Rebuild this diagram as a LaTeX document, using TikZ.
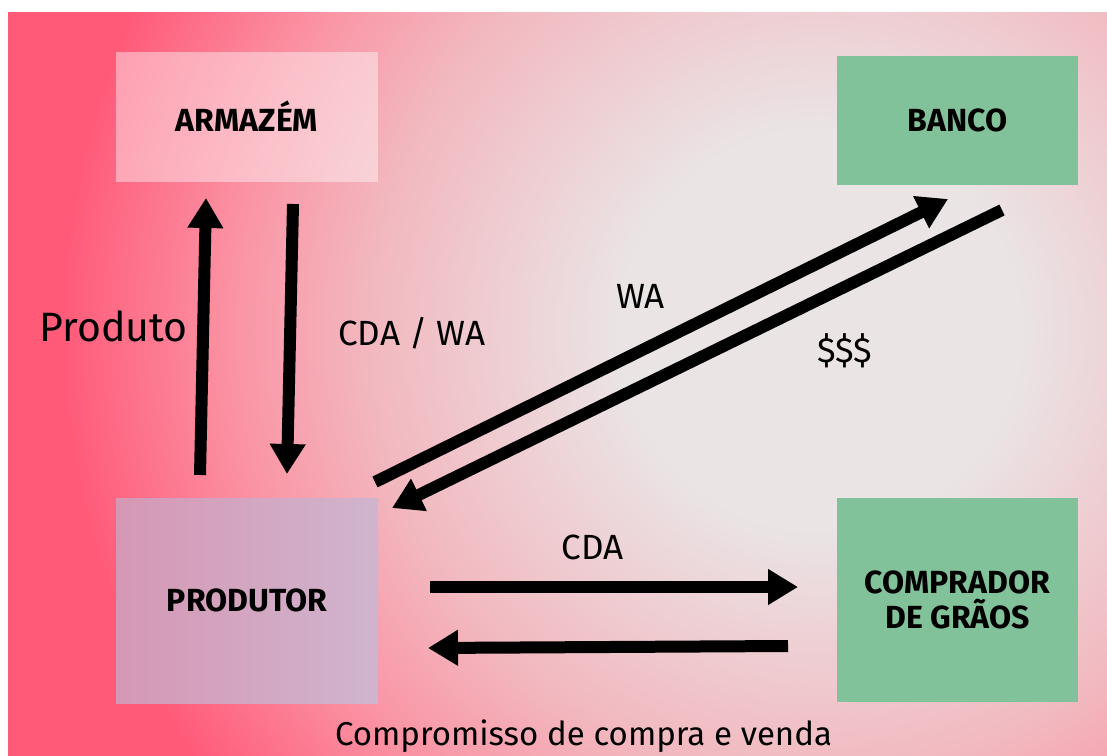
\documentclass[tikz,border=0pt]{standalone}
\usepackage{fontspec}
\setmainfont{Fira Sans}
\usetikzlibrary{arrows.meta}
\definecolor{bgC}{RGB}{234,228,229}
\definecolor{bgM}{RGB}{242,184,191}
\definecolor{bgP}{RGB}{250,150,166}
\definecolor{bgE}{RGB}{255,90,120}
\definecolor{greenbox}{RGB}{130,194,154}
\definecolor{prodL}{RGB}{213,152,180}
\definecolor{prodR}{RGB}{208,180,206}
\pgfdeclareradialshading{bgshade}{\pgfpoint{0bp}{0bp}}{color(0bp)=(bgC); color(5bp)=(bgC); color(11.25bp)=(bgM); color(14.5bp)=(bgP); color(19bp)=(bgE); color(25bp)=(bgE); color(50bp)=(bgE)}
\tikzset{
  box/.style={draw=none, minimum width=262pt, minimum height=130pt, inner sep=0pt, font=\fontsize{32}{35}\selectfont\bfseries, align=center},
  boldarrow/.style={line width=12pt, -{Triangle[length=30pt,width=34pt]}},
  lbl/.style={font=\fontsize{35}{40}\selectfont, inner sep=0pt, anchor=base}
}
\begin{document}
\begin{tikzpicture}[x=1pt,y=-1pt]
\useasboundingbox (0,0) rectangle (1107,755);
\fill[white] (0,0) rectangle (1107,755);
\begin{scope}
\clip (8,12) rectangle (1107,755);
\fill[bgE] (8,12) rectangle (1107,755);
\shade[shading=bgshade] (820,330) circle[radius=1000];
\end{scope}
% boxes
\fill[white, fill opacity=0.42] (116,52) rectangle (378,182);
\node[box, minimum height=130pt] (arm) at (247,116) {ARMAZÉM};
\node[box, fill=greenbox, minimum width=241pt, minimum height=129pt] (banco) at (957.5,120.5) {BANCO};
\shade[left color=prodL, right color=prodR] (116,498) rectangle (378,703);
\node[box, minimum height=205pt] (prod) at (247,600.5) {PRODUTOR};
\node[box, fill=greenbox, minimum width=241pt, minimum height=204pt] (comp) at (957.5,600) {COMPRADOR\\DE GRÃOS};
% arrow endpoints
\coordinate (pa1) at (200,475);
\coordinate (pa2) at (206,198);
\coordinate (cw1) at (293,204);
\coordinate (cw2) at (287,474);
\coordinate (wa1) at (375,482);
\coordinate (wa2) at (948,199);
\coordinate (dl1) at (1002,210);
\coordinate (dl2) at (392,508);
\coordinate (ca1) at (430,587);
\coordinate (ca2) at (798,587);
\coordinate (cb1) at (788,646);
\coordinate (cb2) at (428,648);
\draw[boldarrow] (pa1) -- (pa2);
\draw[boldarrow] (cw1) -- (cw2);
\draw[boldarrow] (wa1) -- (wa2);
\draw[boldarrow] (dl1) -- (dl2);
\draw[boldarrow] (ca1) -- (ca2);
\draw[boldarrow] (cb1) -- (cb2);
% labels
\node[lbl, font=\fontsize{41}{45}\selectfont] (lprod) at (113.5,341) {Produto};
\node[lbl] (lcdawa) at (412,345) {CDA / WA};
\node[lbl] (lwa) at (640.5,308) {WA};
\node[lbl] (ldol) at (844.5,362) {\$\$\$};
\node[lbl] (lcda) at (592.5,559) {CDA};
\node[lbl, font=\fontsize{33}{38}\selectfont] (lcomp) at (583.5,745) {Compromisso de compra e venda};
\end{tikzpicture}
\end{document}
